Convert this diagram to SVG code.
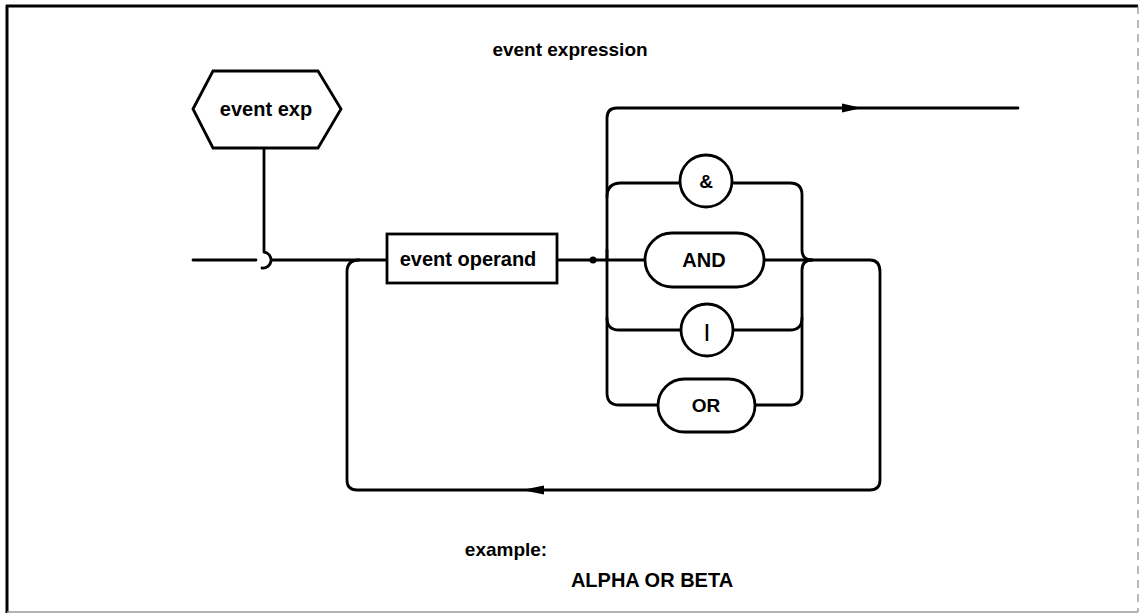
<svg xmlns="http://www.w3.org/2000/svg" width="1140" height="615" viewBox="0 0 1140 615">
<style>
.ln{fill:none;stroke:#000;stroke-width:2.8;stroke-linecap:round;stroke-linejoin:round}
.sh{fill:#fff;stroke:#000;stroke-width:2.8}
.t{font-family:"Liberation Sans",Arial,sans-serif;font-weight:bold;fill:#000;text-anchor:middle}
</style>
<rect width="1140" height="615" fill="#fff"/>
<g id="frame">
<line x1="6" y1="6" x2="1138" y2="6" stroke="#000" stroke-width="3"/>
<line x1="7" y1="5" x2="7" y2="613" stroke="#000" stroke-width="3"/>
<line x1="1138" y1="6" x2="1138" y2="612" stroke="#777" stroke-width="1" stroke-dasharray="8,6"/>
<line x1="7" y1="612" x2="1138" y2="612" stroke="#999" stroke-width="1.5"/>
</g>
<text id="title" class="t" x="570" y="56" font-size="19">event expression</text>
<g id="connectors">
<path class="ln" d="M193,260 H256 M272,260 H387"/>
<path class="ln" d="M264,148 V252 A8,8 0 0 1 262,268"/>
<path class="ln" d="M557,260 H645"/>
<path class="ln" d="M607,260 V118 Q607,108 617,108 H1018"/>
<path class="ln" d="M607,250 V393 Q607,405 619,405 H658"/>
<path class="ln" d="M607,197 Q607,183 621,183 H680"/>
<path class="ln" d="M607,318 Q607,330 619,330 H681"/>
<path class="ln" d="M732,183 H790 Q802,183 802,195 V250 Q802,260 812,260"/>
<path class="ln" d="M764,260 H870 Q880,260 880,272 V480 Q880,490 870,490 H357 Q347,490 347,480 V272 Q347,260 359,260"/>
<path class="ln" d="M812,260 Q802,260 802,270 V393 Q802,405 790,405 H755"/>
<path class="ln" d="M733,330 H790 Q802,330 802,318"/>
<circle cx="593" cy="260" r="3.5" fill="#000"/>
<polygon points="862,108 842,103.5 842,112.5" fill="#000"/>
<polygon points="522,490 544,485.5 544,494.5" fill="#000"/>
</g>
<g id="event-exp">
<polygon class="sh" points="193,109 213,71 318,71 341,109 318,148 213,148"/>
<text class="t" x="266" y="116" font-size="20">event exp</text>
</g>
<g id="event-operand">
<rect class="sh" x="387" y="234" width="170" height="49"/>
<text class="t" x="468" y="266" font-size="20">event operand</text>
</g>
<g id="amp">
<circle class="sh" cx="706" cy="181" r="26"/>
<text class="t" x="706" y="188" font-size="19">&amp;</text>
</g>
<g id="and">
<rect class="sh" x="645" y="233" width="119" height="54" rx="27" ry="27"/>
<text class="t" x="704" y="267" font-size="20">AND</text>
</g>
<g id="bar">
<circle class="sh" cx="707" cy="330" r="26"/>
<text class="t" x="707" y="337" font-size="19">|</text>
</g>
<g id="or">
<rect class="sh" x="658" y="379" width="97" height="53" rx="26.5" ry="26.5"/>
<text class="t" x="706" y="412" font-size="19">OR</text>
</g>
<text id="example" class="t" x="506" y="556" font-size="19">example:</text>
<text id="example-text" class="t" x="652" y="587" font-size="20">ALPHA OR BETA</text>
</svg>
